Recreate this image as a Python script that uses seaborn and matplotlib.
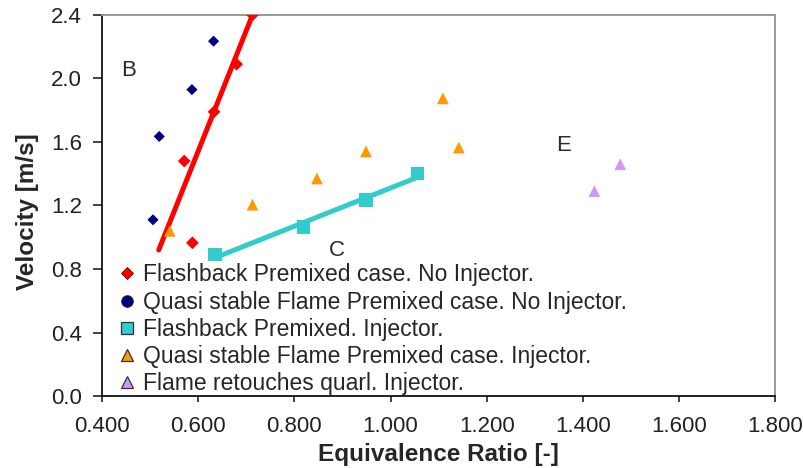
import matplotlib
matplotlib.use("Agg")
import matplotlib.pyplot as plt
from matplotlib.lines import Line2D
from matplotlib.ticker import FormatStrFormatter
import numpy as np
import seaborn as sns

# Flashback, premixed, no injector
fb_noinj_phi = [0.713, 0.680, 0.633, 0.571, 0.588]
fb_noinj_vel = [2.40, 2.09, 1.79, 1.48, 0.965]
# trend line through the flashback (no injector) boundary
fb_noinj_line_phi = [0.518, 0.713]
fb_noinj_line_vel = [0.92, 2.40]

# Quasi stable flame, premixed, no injector
qs_noinj_phi = [0.632, 0.587, 0.519, 0.506]
qs_noinj_vel = [2.235, 1.93, 1.635, 1.11]

# Flashback, premixed, with injector
fb_inj_phi = [0.635, 0.819, 0.949, 1.056]
fb_inj_vel = [0.89, 1.065, 1.235, 1.40]

# Quasi stable flame, premixed, with injector
qs_inj_phi = [0.541, 0.713, 0.847, 0.949, 1.109, 1.142]
qs_inj_vel = [1.04, 1.205, 1.37, 1.54, 1.875, 1.565]

# Flame retouches quarl, with injector
rq_inj_phi = [1.424, 1.478]
rq_inj_vel = [1.29, 1.46]

labels = [
    "Flashback Premixed case. No Injector.",
    "Quasi stable Flame Premixed case. No Injector.",
    "Flashback Premixed. Injector.",
    "Quasi stable Flame Premixed case. Injector.",
    "Flame retouches quarl. Injector.",
]
region_names = ["B", "C", "E"]
region_phi = [0.456, 0.889, 1.359]
region_vel = [2.05, 0.915, 1.58]

x_ticks = [0.4, 0.6, 0.8, 1.0, 1.2, 1.4, 1.6, 1.8]
y_ticks = [0.0, 0.4, 0.8, 1.2, 1.6, 2.0, 2.4]

RED = "#FF0000"
NAVY = "#000080"
CYAN = "#33CCCC"
ORANGE = "#FF9900"
LILAC = "#CC99FF"

sns.set_style("white")
plt.rcParams["font.family"] = ["Liberation Sans", "DejaVu Sans"]

fig = plt.figure(figsize=(8.04, 4.68), dpi=100)
ax = fig.add_axes([0.1269, 0.1538, 0.8372, 0.8142])

# trend lines
sns.lineplot(x=fb_noinj_line_phi, y=fb_noinj_line_vel, ax=ax, color=RED,
             linewidth=3.6, zorder=2, legend=False)
sns.regplot(x=np.array(fb_inj_phi), y=np.array(fb_inj_vel), ax=ax, scatter=False,
            ci=None, color=CYAN, line_kws=dict(linewidth=3.6, zorder=2))

# data points
sns.scatterplot(x=qs_noinj_phi, y=qs_noinj_vel, ax=ax, marker="D", s=32,
                color=NAVY, edgecolor="none", zorder=3)
sns.scatterplot(x=fb_noinj_phi, y=fb_noinj_vel, ax=ax, marker="D", s=42,
                color=RED, edgecolor="none", zorder=3)
sns.scatterplot(x=fb_inj_phi, y=fb_inj_vel, ax=ax, marker="s", s=92,
                color=CYAN, edgecolor="none", zorder=3)
sns.scatterplot(x=qs_inj_phi, y=qs_inj_vel, ax=ax, marker="^", s=72,
                color=ORANGE, edgecolor="none", zorder=3)
sns.scatterplot(x=rq_inj_phi, y=rq_inj_vel, ax=ax, marker="^", s=72,
                color=LILAC, edgecolor="none", zorder=3)

for name, px, py in zip(region_names, region_phi, region_vel):
    ax.text(px, py, name, fontsize=16, color="#2a2a2a", ha="center", va="center")

ax.set_xlim(x_ticks[0], x_ticks[-1])
ax.set_ylim(y_ticks[0], y_ticks[-1])
ax.set_xticks(x_ticks)
ax.set_yticks(y_ticks)
ax.xaxis.set_major_formatter(FormatStrFormatter("%.3f"))
ax.yaxis.set_major_formatter(FormatStrFormatter("%.1f"))
ax.tick_params(axis="both", which="major", direction="out", labelsize=16,
               colors="#222222", width=1.2)
ax.tick_params(axis="x", length=4.5, pad=10)
ax.tick_params(axis="y", length=6.5, pad=8)
ax.xaxis.set_ticks_position("bottom")
ax.yaxis.set_ticks_position("left")

for side in ("left", "bottom"):
    ax.spines[side].set_color("#111111")
    ax.spines[side].set_linewidth(1.3)
for side in ("top", "right"):
    ax.spines[side].set_color("#999999")
    ax.spines[side].set_linewidth(1.4)

ax.set_xlabel("Equivalence Ratio [-]", fontsize=17.5, fontweight="bold", labelpad=4)
ax.set_ylabel("Velocity [m/s]", fontsize=17.5, fontweight="bold")
ax.yaxis.set_label_coords(-0.094, 0.483)

handles = [
    Line2D([], [], linestyle="none", marker="D", markersize=6, markerfacecolor=RED,
           markeredgecolor="#660000", markeredgewidth=0.6),
    Line2D([], [], linestyle="none", marker="o", markersize=8.5, markerfacecolor=NAVY,
           markeredgecolor="#333333", markeredgewidth=0.6),
    Line2D([], [], linestyle="none", marker="s", markersize=8.5, markerfacecolor=CYAN,
           markeredgecolor="#333333", markeredgewidth=0.9),
    Line2D([], [], linestyle="none", marker="^", markersize=8.5, markerfacecolor=ORANGE,
           markeredgecolor="#333333", markeredgewidth=0.9),
    Line2D([], [], linestyle="none", marker="^", markersize=8.5, markerfacecolor=LILAC,
           markeredgecolor="#333333", markeredgewidth=0.9),
]
ax.legend(handles, labels, loc="upper left", bbox_to_anchor=(0.0235, 0.348),
          frameon=False, fontsize=16.5, handlelength=0.8, handletextpad=0.3,
          labelspacing=0.18, borderpad=0.0, borderaxespad=0.0)

fig.savefig("out.png", dpi=100)
